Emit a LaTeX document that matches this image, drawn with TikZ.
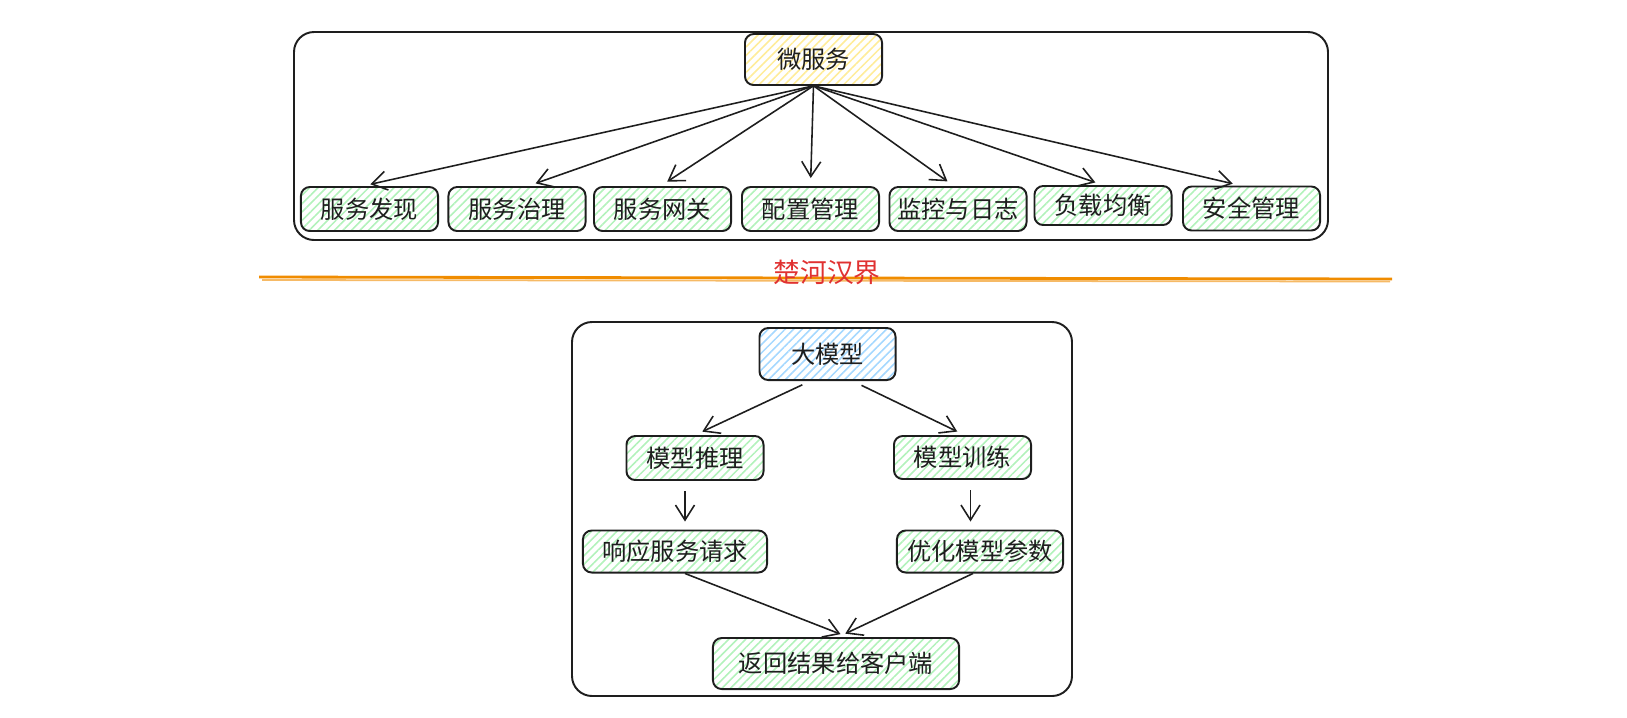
\documentclass[tikz,border=0pt]{standalone}
\usepackage{fontspec}
\newfontfamily\cjk{Noto Sans CJK SC}
\usetikzlibrary{calc,arrows.meta,patterns.meta}
\definecolor{ink}{HTML}{1E1E1E}
\definecolor{hatchgreen}{HTML}{B2F2BB}
\definecolor{hatchyellow}{HTML}{FFEC99}
\definecolor{hatchblue}{HTML}{A5D8FF}
\definecolor{rivercolor}{HTML}{F08C00}
\definecolor{redcolor}{HTML}{E03131}

\begin{document}
\begin{tikzpicture}[x=0.01cm, y=-0.01cm,
  box/.style={draw=ink, line width=0.55pt, rounded corners=2.5pt,
    pattern={Lines[angle=45,distance=1.7pt,line width=0.45pt]},
    pattern color=hatchgreen, minimum width=1.37cm, minimum height=0.44cm,
    inner sep=0pt, font=\cjk\fontsize{6.9}{8}\selectfont, text=ink},
  hub/.style={box, minimum height=0.51cm},
  arr/.style={-{Straight Barb[length=1.5mm,width=1.9mm]}, draw=ink,
    line width=0.45pt, shorten >=0.08cm},
  frame/.style={draw=ink, line width=0.55pt, rounded corners=0.2cm},
]
  \useasboundingbox (0,0) rectangle (1627,717);

  % microservices
  \draw[frame] (294,32) rectangle (1328,240);
  \node[hub, pattern color=hatchyellow] (ms) at (813.5,59.5) {微服务};
  \node[box] (disc) at (369.5,209) {服务发现};
  \node[box] (gov) at (517,209) {服务治理};
  \node[box] (gw) at (662.5,209) {服务网关};
  \node[box] (conf) at (810.5,209) {配置管理};
  \node[box] (mon) at (958,209) {监控与日志};
  \node[box, minimum height=0.39cm] (lb) at (1103,205.5) {负载均衡};
  \node[box] (sec) at (1251.5,208.5) {安全管理};

  \draw[arr] (ms.south) -- ([xshift=-0.07cm]disc.north);
  \draw[arr] (ms.south) -- ([xshift=0.11cm]gov.north);
  \draw[arr] (ms.south) -- ([xshift=-0.02cm]gw.north);
  \draw[arr] (ms.south) -- (conf.north);
  \draw[arr] (ms.south) -- ([xshift=-0.04cm]mon.north);
  \draw[arr] (ms.south) -- (lb.north);
  \draw[arr] (ms.south) -- ([xshift=-0.11cm]sec.north);

  % border
  \draw[rivercolor, line width=0.8pt] (259,277) -- (1392,279);
  \draw[rivercolor!60, line width=0.5pt] (262,280) -- (1390,281.5);
  \node[font=\cjk\fontsize{7.6}{9}\selectfont, text=redcolor] (river) at (827,272) {楚河汉界};

  % large model
  \draw[frame] (572,322) rectangle (1072,696);
  \node[hub, pattern color=hatchblue, minimum width=1.36cm, minimum height=0.52cm] (lm) at (827.5,354) {大模型};
  \node[box] (inf) at (695,458) {模型推理};
  \node[box, minimum height=0.43cm] (trn) at (962.5,457.5) {模型训练};
  \node[box, minimum width=1.84cm, minimum height=0.42cm] (rsp) at (675,551.5) {响应服务请求};
  \node[box, minimum width=1.66cm, minimum height=0.42cm] (opt) at (980,551.5) {优化模型参数};
  \node[hub, minimum width=2.46cm] (ret) at (836,663.5) {返回结果给客户端};

  \draw[arr, shorten <=0.09cm] ([xshift=-0.17cm]lm.south) -- (inf.north);
  \draw[arr, shorten <=0.1cm] ([xshift=0.25cm]lm.south) -- ([xshift=0.02cm]trn.north);
  \draw[arr, shorten <=0.1cm] ([xshift=-0.1cm]inf.south) -- ([xshift=-0.1cm]inf.south |- rsp.north);
  \draw[arr, shorten <=0.1cm] ([xshift=0.08cm]trn.south) -- ([xshift=0.08cm]trn.south |- opt.north);
  \draw[arr] ([xshift=0.1cm]rsp.south) -- ([xshift=0.12cm]ret.north);
  \draw[arr] ([xshift=-0.07cm]opt.south) -- ([xshift=0.02cm]ret.north);
\end{tikzpicture}
\end{document}
